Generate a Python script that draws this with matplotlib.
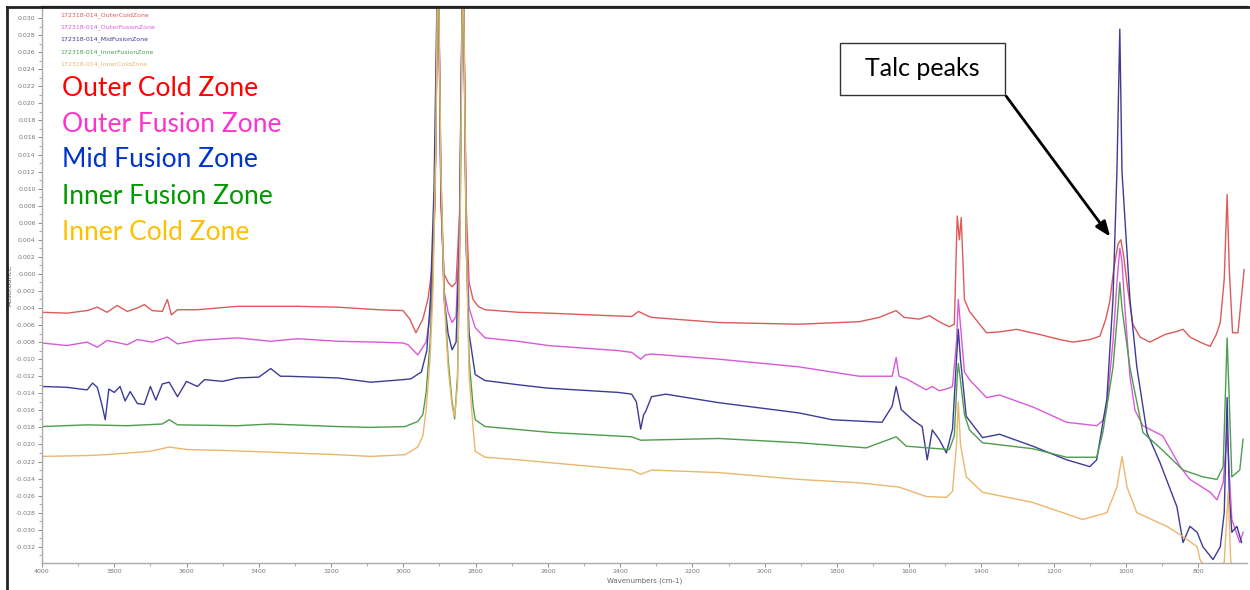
import matplotlib
matplotlib.use("Agg")
import matplotlib.pyplot as plt
from matplotlib.lines import Line2D
from matplotlib.patches import Rectangle
import numpy as np

# ---- data (wavenumber cm-1, absorbance) ----
# peaks at ~2900 / ~2835 run off the top of the plot in the original
outer_cold = [
    (4000, -0.0045), (3931, -0.0046), (3875, -0.0043), (3847, -0.0039), (3820, -0.0045),
    (3792, -0.0037), (3764, -0.0044), (3736, -0.0040), (3717, -0.0036), (3695, -0.0043),
    (3667, -0.0044), (3653, -0.0030), (3642, -0.0048), (3625, -0.0042), (3570, -0.0042),
    (3459, -0.0038), (3292, -0.0038), (3181, -0.0039), (3070, -0.0042), (3001, -0.0043),
    (2982, -0.0053), (2965, -0.0069), (2946, -0.0053), (2932, -0.0030), (2921, 0.0005),
    (2912, 0.0080), (2904, 0.0400), (2896, 0.0080), (2887, 0.0000), (2876, -0.0010),
    (2865, -0.0015), (2854, -0.0010), (2843, 0.0080), (2835, 0.0400), (2826, 0.0080),
    (2818, -0.0010), (2807, -0.0030), (2793, -0.0038), (2774, -0.0042), (2682, -0.0045),
    (2599, -0.0046), (2368, -0.0050), (2349, -0.0044), (2330, -0.0048), (2313, -0.0051),
    (2127, -0.0057), (1905, -0.0059), (1738, -0.0056), (1683, -0.0051), (1636, -0.0043),
    (1614, -0.0051), (1572, -0.0053), (1544, -0.0049), (1517, -0.0056), (1489, -0.0062),
    (1475, -0.0059), (1467, 0.0068), (1461, 0.0040), (1456, 0.0066), (1447, -0.0030),
    (1433, -0.0044), (1405, -0.0059), (1386, -0.0069), (1350, -0.0068), (1303, -0.0065),
    (1239, -0.0071), (1183, -0.0077), (1147, -0.0080), (1100, -0.0077), (1072, -0.0073),
    (1056, -0.0053), (1045, -0.0033), (1034, 0.0005), (1022, 0.0035), (1014, 0.0040),
    (1006, 0.0020), (995, -0.0018), (981, -0.0059), (961, -0.0074), (934, -0.0080),
    (892, -0.0071), (864, -0.0068), (842, -0.0065), (823, -0.0074), (795, -0.0080),
    (767, -0.0085), (750, -0.0071), (739, -0.0057), (728, -0.0006), (720, 0.0093),
    (714, 0.0005), (705, -0.0069), (690, -0.0069), (681, -0.0030), (673, 0.0005),
]

outer_fusion = [
    (4000, -0.0081), (3931, -0.0084), (3875, -0.0080), (3847, -0.0086), (3820, -0.0078),
    (3764, -0.0083), (3736, -0.0077), (3695, -0.0080), (3653, -0.0074), (3625, -0.0082),
    (3570, -0.0078), (3459, -0.0075), (3367, -0.0079), (3292, -0.0076), (3181, -0.0079),
    (3070, -0.0080), (3001, -0.0081), (2987, -0.0083), (2960, -0.0095), (2937, -0.0080),
    (2926, -0.0050), (2918, 0.0020), (2910, 0.0150), (2904, 0.0400), (2896, 0.0100),
    (2887, -0.0020), (2876, -0.0045), (2865, -0.0057), (2854, -0.0050), (2845, 0.0050),
    (2835, 0.0400), (2826, 0.0050), (2818, -0.0040), (2801, -0.0063), (2774, -0.0075),
    (2682, -0.0079), (2599, -0.0084), (2404, -0.0090), (2368, -0.0092), (2343, -0.0100),
    (2330, -0.0095), (2313, -0.0094), (2127, -0.0100), (1905, -0.0109), (1738, -0.0120),
    (1675, -0.0120), (1647, -0.0120), (1636, -0.0098), (1628, -0.0120), (1608, -0.0123),
    (1553, -0.0136), (1536, -0.0132), (1517, -0.0137), (1497, -0.0135), (1480, -0.0132),
    (1469, -0.0080), (1464, -0.0030), (1458, -0.0060), (1447, -0.0115), (1433, -0.0124),
    (1386, -0.0145), (1350, -0.0142), (1258, -0.0156), (1164, -0.0174), (1081, -0.0178),
    (1064, -0.0172), (1053, -0.0155), (1036, -0.0080), (1025, -0.0010), (1017, 0.0030),
    (1011, 0.0015), (1003, -0.0040), (989, -0.0120), (975, -0.0160), (953, -0.0178),
    (898, -0.0190), (850, -0.0226), (823, -0.0241), (767, -0.0256), (748, -0.0265),
    (731, -0.0245), (720, -0.0186), (707, -0.0288), (685, -0.0315), (676, -0.0303),
]

mid_fusion = [
    (4000, -0.0132), (3931, -0.0133), (3875, -0.0136), (3860, -0.0128), (3847, -0.0133),
    (3835, -0.0152), (3825, -0.0171), (3815, -0.0135), (3800, -0.0139), (3784, -0.0132),
    (3770, -0.0149), (3756, -0.0138), (3736, -0.0152), (3717, -0.0153), (3700, -0.0132),
    (3685, -0.0148), (3667, -0.0129), (3648, -0.0127), (3625, -0.0144), (3600, -0.0126),
    (3570, -0.0132), (3550, -0.0124), (3500, -0.0126), (3459, -0.0122), (3400, -0.0121),
    (3367, -0.0111), (3340, -0.0120), (3320, -0.0120), (3181, -0.0122), (3090, -0.0127),
    (3001, -0.0124), (2979, -0.0123), (2950, -0.0115), (2935, -0.0090), (2925, -0.0030),
    (2915, 0.0100), (2904, 0.0400), (2896, 0.0100), (2887, -0.0030), (2876, -0.0070),
    (2865, -0.0089), (2854, -0.0080), (2845, 0.0030), (2835, 0.0400), (2826, 0.0030),
    (2818, -0.0070), (2801, -0.0118), (2774, -0.0125), (2682, -0.0130), (2599, -0.0134),
    (2404, -0.0139), (2368, -0.0141), (2355, -0.0150), (2343, -0.0182), (2335, -0.0165),
    (2330, -0.0162), (2313, -0.0144), (2274, -0.0141), (2127, -0.0151), (1905, -0.0163),
    (1813, -0.0171), (1675, -0.0174), (1647, -0.0155), (1636, -0.0132), (1622, -0.0159),
    (1591, -0.0171), (1564, -0.0179), (1550, -0.0218), (1536, -0.0183), (1517, -0.0194),
    (1497, -0.0210), (1480, -0.0182), (1469, -0.0100), (1464, -0.0065), (1458, -0.0100),
    (1442, -0.0167), (1397, -0.0192), (1350, -0.0188), (1258, -0.0202), (1164, -0.0218),
    (1100, -0.0226), (1081, -0.0218), (1053, -0.0147), (1036, -0.0030), (1025, 0.0120),
    (1017, 0.0287), (1011, 0.0120), (989, -0.0030), (970, -0.0109), (942, -0.0186),
    (906, -0.0221), (859, -0.0273), (842, -0.0315), (823, -0.0296), (803, -0.0303),
    (787, -0.0320), (759, -0.0335), (739, -0.0320), (728, -0.0280), (720, -0.0145),
    (714, -0.0260), (707, -0.0303), (693, -0.0296), (680, -0.0315),
]

inner_fusion = [
    (4000, -0.0179), (3875, -0.0177), (3764, -0.0178), (3667, -0.0176), (3648, -0.0171),
    (3625, -0.0177), (3459, -0.0178), (3367, -0.0176), (3181, -0.0179), (3090, -0.0180),
    (2995, -0.0179), (2960, -0.0173), (2946, -0.0165), (2937, -0.0140), (2926, -0.0080),
    (2918, 0.0000), (2910, 0.0150), (2904, 0.0400), (2896, 0.0120), (2887, -0.0020),
    (2876, -0.0100), (2865, -0.0150), (2858, -0.0170), (2850, -0.0120), (2843, 0.0050),
    (2835, 0.0400), (2826, 0.0050), (2818, -0.0100), (2807, -0.0155), (2801, -0.0171),
    (2774, -0.0179), (2590, -0.0186), (2368, -0.0191), (2343, -0.0195), (2127, -0.0193),
    (1905, -0.0198), (1719, -0.0204), (1636, -0.0191), (1608, -0.0202), (1489, -0.0206),
    (1475, -0.0190), (1467, -0.0120), (1464, -0.0105), (1458, -0.0125), (1447, -0.0165),
    (1433, -0.0183), (1397, -0.0198), (1258, -0.0205), (1164, -0.0215), (1081, -0.0215),
    (1064, -0.0186), (1036, -0.0110), (1022, -0.0040), (1017, -0.0010), (1011, -0.0040),
    (989, -0.0110), (953, -0.0186), (898, -0.0207), (842, -0.0230), (787, -0.0238),
    (748, -0.0241), (731, -0.0226), (720, -0.0075), (714, -0.0150), (707, -0.0238),
    (685, -0.0230), (676, -0.0194),
]

inner_cold = [
    (4000, -0.0214), (3875, -0.0213), (3825, -0.0212), (3700, -0.0208), (3648, -0.0203),
    (3598, -0.0206), (3500, -0.0207), (3367, -0.0209), (3181, -0.0212), (3090, -0.0214),
    (2995, -0.0212), (2960, -0.0203), (2946, -0.0190), (2937, -0.0160), (2926, -0.0100),
    (2918, -0.0020), (2910, 0.0150), (2904, 0.0400), (2896, 0.0120), (2887, -0.0030),
    (2876, -0.0110), (2865, -0.0155), (2858, -0.0167), (2850, -0.0130), (2843, 0.0050),
    (2835, 0.0400), (2826, 0.0050), (2818, -0.0120), (2807, -0.0180), (2801, -0.0208),
    (2774, -0.0215), (2682, -0.0218), (2368, -0.0230), (2343, -0.0235), (2313, -0.0230),
    (2127, -0.0233), (1905, -0.0241), (1738, -0.0245), (1628, -0.0250), (1553, -0.0261),
    (1497, -0.0262), (1480, -0.0255), (1469, -0.0200), (1464, -0.0150), (1458, -0.0200),
    (1442, -0.0238), (1397, -0.0256), (1258, -0.0268), (1120, -0.0288), (1053, -0.0280),
    (1025, -0.0250), (1011, -0.0214), (997, -0.0250), (970, -0.0280), (887, -0.0296),
    (842, -0.0308), (803, -0.0320), (795, -0.0335), (780, -0.0345), (740, -0.0345),
    (728, -0.0338), (717, -0.0255), (710, -0.0338), (700, -0.0345),
]

series_names = ["Outer Cold Zone", "Outer Fusion Zone", "Mid Fusion Zone",
                "Inner Fusion Zone", "Inner Cold Zone"]
file_names = ["172318-014_OuterColdZone", "172318-014_OuterFusionZone",
              "172318-014_MidFusionZone", "172318-014_InnerFusionZone",
              "172318-014_InnerColdZone"]
series = [outer_cold, outer_fusion, mid_fusion, inner_fusion, inner_cold]

line_colors = ["#dc5a5a", "#d85ad8", "#3c3c98", "#4e9c4e", "#ebb66e"]
label_colors = ["#ff0000", "#ff33cc", "#0033cc", "#009900", "#ffc000"]

x_ticks = np.arange(4000, 799, -200)
y_ticks = np.round(np.arange(0.030, -0.0321, -0.002), 3)

fig = plt.figure(figsize=(12.5, 5.9), dpi=100)
ax = fig.add_axes([42 / 1250, 1 - 563 / 590, 1205 / 1250, 556 / 590])

for data, col in zip(series, line_colors):
    wn, ab = zip(*data)
    ax.plot(wn, ab, color=col, lw=1.0)

ax.set_xlim(4000, 665)
ax.set_ylim(-0.0339, 0.0313)

ax.set_xticks(x_ticks)
ax.set_xticks(np.arange(3900, 700, -200), minor=True)
ax.set_yticks(y_ticks)
ax.set_yticks(np.round(np.arange(0.029, -0.0335, -0.002), 3), minor=True)
ax.set_yticklabels(["%.3f" % (v + 0.0) for v in y_ticks])
ax.tick_params(axis="both", labelsize=4.5, colors="#777777", length=3, width=0.6, pad=1.5)
ax.tick_params(which="minor", length=2, colors="#999999")
for s in ["left", "bottom"]:
    ax.spines[s].set_color("#aaaaaa")
    ax.spines[s].set_linewidth(1.0)
ax.spines["right"].set_visible(False)
ax.spines["top"].set_color("#222222")
ax.spines["top"].set_linewidth(1.6)

ax.set_ylabel("Absorbance", fontsize=5, color="#666666")
ax.yaxis.set_label_coords(-0.024, 0.5)
ax.set_xlabel("Wavenumbers (cm-1)", fontsize=5, color="#666666", labelpad=2)

# small software legend, top left
for i, (nm, col) in enumerate(zip(file_names, line_colors)):
    fig.text(60 / 1250, 1 - (15 + 12.3 * i) / 590, nm, fontsize=4.5, color=col,
             va="center", ha="left")

# big coloured labels
label_y = [88, 125, 160, 196, 232]
for nm, col, yy in zip(series_names, label_colors, label_y):
    fig.text(62 / 1250, 1 - yy / 590, nm, fontsize=19, color=col,
             family="Lato", va="center", ha="left")

# talc peaks call-out
fig.add_artist(Rectangle((840 / 1250, 1 - 95 / 590), 165 / 1250, 52 / 590,
                         transform=fig.transFigure, facecolor="white",
                         edgecolor="#333333", lw=1.0))
fig.text(922 / 1250, 1 - 69 / 590, "Talc peaks", fontsize=18, family="Lato",
         color="black", ha="center", va="center")
ax.annotate("", xy=(1039, 0.0041), xytext=(1336, 0.0211),
            arrowprops=dict(arrowstyle="-|>,head_length=0.9,head_width=0.35",
                            color="black", lw=2))

# outer frame of the screenshot
fig.add_artist(Line2D([7 / 1250, 7 / 1250], [0, 1 - 7 / 590], color="#222222",
                      lw=2, transform=fig.transFigure))
fig.add_artist(Line2D([7 / 1250, 1], [1 - 7 / 590, 1 - 7 / 590], color="#222222",
                      lw=2, transform=fig.transFigure))

fig.savefig("out.png", dpi=100)
